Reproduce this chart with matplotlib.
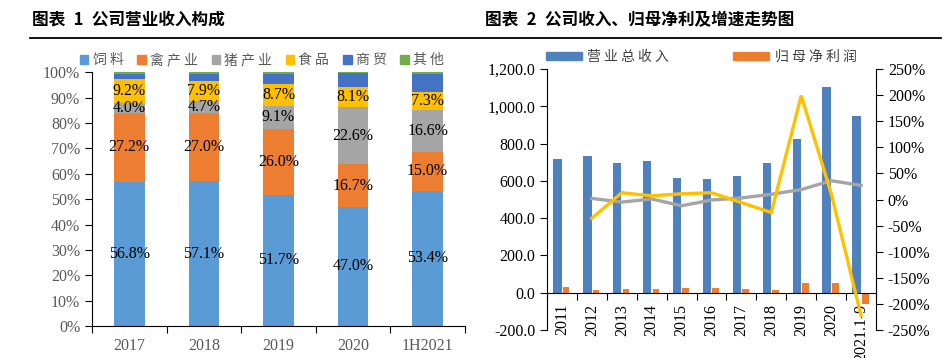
import numpy as np
import matplotlib.pyplot as plt
from matplotlib.lines import Line2D
from matplotlib.patches import Patch
from matplotlib.ticker import FuncFormatter, FixedLocator

SERIF = ['Liberation Serif', 'Noto Sans CJK SC']
CJK = ['Noto Sans CJK SC', 'Liberation Serif']

# --- left chart: revenue structure (%)
years1 = ['2017', '2018', '2019', '2020', '1H2021']
seg_names = ['饲料', '禽产业', '猪产业', '食品', '商贸', '其他']
feed = [56.8, 57.1, 51.7, 47.0, 53.4]
poultry = [27.2, 27.0, 26.0, 16.7, 15.0]
pig = [4.0, 4.7, 9.1, 22.6, 16.6]
food = [9.2, 7.9, 8.7, 8.1, 7.3]
trade = [2.2, 2.6, 3.9, 5.2, 7.2]
other = [0.6, 0.7, 0.6, 0.4, 0.5]
seg_colors = ['#5B9BD5', '#ED7D31', '#A5A5A5', '#FFC000', '#4472C4', '#70AD47']
labelled = 4  # first four segments carry value labels

# --- right chart: revenue / net profit (亿元) and growth
years2 = ['2011', '2012', '2013', '2014', '2015', '2016', '2017', '2018', '2019', '2020', '2021.1-9']
revenue = [718, 734, 695, 704, 617, 610, 626, 694, 824, 1102, 948]
profit = [28, 16, 18, 20, 23, 25, 21, 16, 50, 50, -60]
rev_growth = [np.nan, 2, -5, 1, -12, -1, 3, 10, 19, 36, 27]
profit_growth = [np.nan, -36, 13, 7, 11, 13, -6, -25, 199, 12, -222]


def spaced(s):
    # the reference draws CJK legend text with a little letter spacing
    return ' '.join(s)


fig = plt.figure(figsize=(9.43, 3.58), dpi=100)

# titles + rule
fig.text(32/943, 1-20/358, '图表\u20021\u2002公司营业收入构成', family=CJK, fontsize=12,
         fontweight='bold', va='center', ha='left')
fig.text(485/943, 1-20/358, '图表\u20022\u2002公司收入、归母净利及增速走势图', family=CJK,
         fontsize=12, fontweight='bold', va='center', ha='left')
fig.add_artist(Line2D([30/943, 941/943], [1-37.7/358]*2, color='black', lw=1.3))

# ---------------- left chart
ax1 = fig.add_axes([92/943, 1-326/358, (465-92)/943, (326-72.3)/358])
x1 = np.arange(len(years1))
series = [feed, poultry, pig, food, trade, other]
bottom = np.zeros(len(years1))
for i, (vals, col) in enumerate(zip(series, seg_colors)):
    vals = np.array(vals)
    ax1.bar(x1, vals, 0.41, bottom=bottom, color=col, label=seg_names[i])
    if i < labelled:
        for xx, b, v in zip(x1, bottom, vals):
            ax1.text(xx, b + v/2, f'{v:.1f}%', ha='center', va='center',
                     family=SERIF, fontsize=11.5, color='black')
    bottom += vals

ax1.set_xlim(-0.5, len(years1)-0.5)
ax1.set_ylim(0, 100)
ax1.set_yticks(np.arange(0, 101, 10))
ax1.yaxis.set_major_formatter(FuncFormatter(lambda v, p: f'{v:.0f}%'))
ax1.xaxis.set_major_locator(FixedLocator(np.arange(-0.5, len(years1), 1)))
ax1.xaxis.set_minor_locator(FixedLocator(x1))
ax1.set_xticklabels([], minor=False)
ax1.set_xticklabels(years1, minor=True)
ax1.tick_params(axis='x', which='major', length=5, direction='out')
ax1.tick_params(axis='x', which='minor', length=0, pad=9)
ax1.tick_params(axis='y', length=5, direction='out')
for lab in ax1.get_xticklabels(minor=True) + ax1.get_yticklabels():
    lab.set_family(SERIF)
    lab.set_fontsize(11.5)
    lab.set_color('#595959')
for s in ['top', 'right']:
    ax1.spines[s].set_visible(False)

h1 = [Patch(color=c) for c in seg_colors]
leg1 = fig.legend(h1, [spaced(n) for n in seg_names], loc='center',
                  bbox_to_anchor=(262/943, 1-60/358),
                  ncol=6, frameon=False, handlelength=0.6, handleheight=0.6,
                  handletextpad=0.3, columnspacing=1.0,
                  prop={'family': CJK, 'size': 10})
for t in leg1.get_texts():
    t.set_color('#595959')

# ---------------- right chart
ax2 = fig.add_axes([547/943, 1-330/358, (876-547)/943, (330-69)/358])
x2 = np.arange(len(years2))
ax2.bar(x2 - 0.15, revenue, 0.28, color='#4F81BD', label='营业总收入')
ax2.bar(x2 + 0.14, profit, 0.22, color='#ED7D31', label='归母净利润')
ax2.set_xlim(-0.5, len(years2)-0.5)
ax2.set_ylim(-200, 1200)
ax2.set_yticks(np.arange(-200, 1201, 200))
ax2.yaxis.set_major_formatter(FuncFormatter(lambda v, p: f'{v:,.1f}'))
ax2.spines['bottom'].set_position(('data', 0))
ax2.xaxis.set_major_locator(FixedLocator(np.arange(-0.5, len(years2), 1)))
ax2.xaxis.set_minor_locator(FixedLocator(x2))
ax2.set_xticklabels([], minor=False)
ax2.set_xticklabels(years2, minor=True, rotation=90, va='top')
ax2.tick_params(axis='x', which='major', length=5, direction='out')
ax2.tick_params(axis='x', which='minor', length=0, pad=8)
ax2.tick_params(axis='y', length=5, direction='out')
for lab in ax2.get_xticklabels(minor=True) + ax2.get_yticklabels():
    lab.set_family(SERIF)
    lab.set_fontsize(11.5)
for s in ['top', 'right']:
    ax2.spines[s].set_visible(False)

ax3 = ax2.twinx()
ax3.plot(x2, rev_growth, color='#A5A5A5', lw=2.4, solid_joinstyle='miter')
ax3.plot(x2, profit_growth, color='#FFC000', lw=2.4, solid_joinstyle='miter')
ax3.set_ylim(-250, 250)
ax3.set_yticks(np.arange(-250, 251, 50))
ax3.yaxis.set_major_formatter(FuncFormatter(lambda v, p: f'{v:.0f}%'))
ax3.tick_params(axis='y', length=5, direction='out')
for lab in ax3.get_yticklabels():
    lab.set_family(SERIF)
    lab.set_fontsize(11.5)
for s in ['top', 'left', 'bottom']:
    ax3.spines[s].set_visible(False)

h2 = [Patch(color='#4F81BD'), Patch(color='#ED7D31')]
leg2 = fig.legend(h2, [spaced('营业总收入'), spaced('归母净利润')], loc='center',
                  bbox_to_anchor=(701/943, 1-57/358), ncol=2, frameon=False,
                  handlelength=2.6, handleheight=0.5, handletextpad=0.4,
                  columnspacing=4.6, prop={'family': CJK, 'size': 10})
for t in leg2.get_texts():
    t.set_color('#404040')

fig.savefig('out.png', dpi=100)
